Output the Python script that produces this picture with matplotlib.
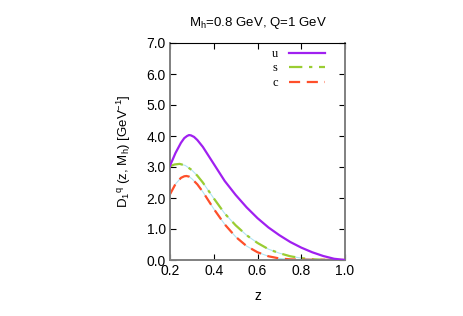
import numpy as np
import matplotlib
matplotlib.use("Agg")
import matplotlib.pyplot as plt

plt.rcParams['font.family'] = 'Liberation Sans'
plt.rcParams['mathtext.fontset'] = 'custom'
plt.rcParams['mathtext.rm'] = 'Liberation Sans'
plt.rcParams['mathtext.it'] = 'Liberation Sans'
plt.rcParams['mathtext.default'] = 'regular'

# values
z_u = [0.20, 0.225, 0.25, 0.265, 0.278, 0.287, 0.296, 0.31, 0.325, 0.35, 0.40, 0.45, 0.50, 0.55,
       0.60, 0.65, 0.70, 0.75, 0.80, 0.85, 0.90, 0.95, 1.00]
D_u = [3.04, 3.45, 3.78, 3.93, 4.00, 4.03, 4.02, 3.97, 3.87, 3.65, 3.10, 2.55, 2.10, 1.70,
       1.35, 1.05, 0.80, 0.58, 0.40, 0.25, 0.13, 0.04, 0.00]

z_s = [0.20, 0.22, 0.244, 0.27, 0.30, 0.325, 0.35, 0.40, 0.45, 0.50, 0.55, 0.60,
       0.65, 0.70, 0.75, 0.80, 0.85, 0.90, 1.00]
D_s = [3.02, 3.08, 3.10, 3.05, 2.90, 2.72, 2.50, 1.99, 1.50, 1.12, 0.80, 0.55,
       0.35, 0.22, 0.12, 0.06, 0.025, 0.008, 0.00]

z_c = [0.20, 0.225, 0.25, 0.265, 0.275, 0.287, 0.30, 0.325, 0.35, 0.40, 0.45, 0.50, 0.55, 0.60,
       0.65, 0.70, 0.75, 0.80, 1.00]
D_c = [2.12, 2.45, 2.65, 2.70, 2.71, 2.69, 2.62, 2.44, 2.20, 1.65, 1.15, 0.75, 0.45, 0.25,
       0.12, 0.05, 0.02, 0.01, 0.00]

xticks = [0.2, 0.4, 0.6, 0.8, 1.0]
yticks = [0.0, 1.0, 2.0, 3.0, 4.0, 5.0, 6.0, 7.0]

fig = plt.figure(figsize=(4.63, 3.16), dpi=100)
ax = fig.add_axes([170 / 463, 1 - 260 / 316, 175 / 463, 217 / 316])

# thin light-blue trace under s and c (as in the reference)
ax.plot(z_s, D_s, color='#b0e4f2', lw=0.8, zorder=1)
ax.plot(z_c, D_c, color='#b0e4f2', lw=0.8, zorder=1)

ax.plot(z_u, D_u, color='#a020f0', lw=1.6, zorder=3, label='u')
ax.plot(z_s, D_s, color='#9acd32', lw=1.6, dashes=(6, 3, 1.5, 3), zorder=2, label='s')
ax.plot(z_c, D_c, color='#ff4f2a', lw=1.6, dashes=(5, 3), zorder=2, label='c')

ax.set_xlim(0.2, 1.0)
ax.set_ylim(0.0, 7.0)
ax.set_xticks(xticks)
ax.set_xticklabels(['%.1f' % v for v in xticks])
ax.set_yticks(yticks)
ax.set_yticklabels(['%.1f' % v for v in yticks])
ax.tick_params(direction='in', length=4, width=0.8, top=True, right=True,
               labelsize=10, pad=3)

for side in ['left', 'bottom', 'right']:
    ax.spines[side].set_color('#808080')
    ax.spines[side].set_linewidth(1.4)
ax.spines['top'].set_color('black')
ax.spines['top'].set_linewidth(0.8)

# legend, gnuplot style: label on left, sample on right
leg = ax.legend(loc='upper right', bbox_to_anchor=(0.93, 1.012), frameon=False,
                prop={'family': 'Liberation Serif', 'size': 9},
                markerfirst=False, handlelength=2.9, labelspacing=0.2,
                borderaxespad=0.2, handletextpad=0.9)

ax.set_xlabel('z', fontsize=10, labelpad=8)
ax.set_ylabel(r'D$_1$$^{q}$ (z, M$_h$) [GeV$^{-1}$]', fontsize=9.5, labelpad=10)
ax.set_title(r'M$_h$=0.8 GeV, Q=1 GeV', fontsize=9.5, pad=12)

fig.savefig('out.png', dpi=100)
